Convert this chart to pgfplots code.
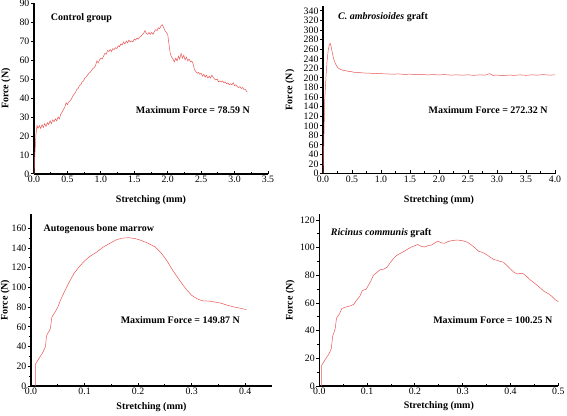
\documentclass[border=0pt]{standalone}
\usepackage{pgfplots}
\pgfplotsset{compat=1.18}
\usepackage{fontspec}
\setmainfont{Liberation Serif}
\definecolor{curve}{RGB}{235,85,85}
\pgfplotsset{
  panel/.style={
    scale only axis,
    axis lines*=left,
    axis line style={line width=1.1pt, black},
    every tick/.style={black, line width=1pt},
    major tick length=3.2pt,
    minor tick length=2.2pt,
    xtick align=inside,
    ytick align=outside,
    tick label style={font=\fontsize{9.8}{10}\selectfont},
    yticklabel style={inner sep=1.2pt},
    xticklabel style={inner sep=2pt},
    /pgf/number format/assume math mode=true,
    label style={font=\bfseries\fontsize{10}{11}\selectfont},
    clip=false,
  },
  xone/.style={xticklabel style={/pgf/number format/.cd, fixed, fixed zerofill, precision=1}},
}
\newcommand{\ann}{\bfseries\fontsize{10}{11}\selectfont}
\begin{document}
\begin{tikzpicture}[x=1pt,y=1pt]
\useasboundingbox (0,0) rectangle (567,415);
% ---------- Panel 1: Control group
\begin{axis}[panel, xone,
  at={(34pt,241pt)}, anchor=south west, width=234pt, height=171pt,
  xmin=0, xmax=3.5, ymin=0, ymax=90,
  xtick={0,0.5,1,1.5,2,2.5,3,3.5}, ytick={0,10,...,90},
  minor x tick num=1,
  xlabel={Stretching (mm)}, ylabel={Force (N)},
  x label style={at={(axis description cs:0.5,0)}, anchor=center, yshift=-26pt},
  y label style={at={(axis description cs:-0.12,0.5)}, anchor=center},
]
\addplot[curve, line width=0.5pt] coordinates {
(0,0) (0.01,8) (0.02,15) (0.03,21) (0.045,25.5) (0.06,24) (0.08,25.5) (0.10,24) (0.12,26) (0.14,24.5)
(0.16,26.5) (0.18,25) (0.20,27) (0.22,26) (0.24,28) (0.26,26.5) (0.28,28.5) (0.30,27.5) (0.32,29) (0.34,28)
(0.36,30) (0.38,29) (0.40,31.5) (0.42,32.5) (0.44,34) (0.46,35) (0.48,37.5) (0.50,36.5) (0.52,38) (0.54,38.5)
(0.56,39.5) (0.58,41) (0.60,42) (0.62,43) (0.64,44.5) (0.66,45) (0.68,46.5) (0.70,47) (0.72,48.5) (0.74,49)
(0.76,50.5) (0.78,51) (0.80,52) (0.82,53) (0.84,53.5) (0.86,54.5) (0.88,55.5) (0.90,56) (0.92,57) (0.94,59.5)
(0.96,58.5) (0.98,60) (1.00,61) (1.02,60.5) (1.04,62) (1.06,63.5) (1.08,63) (1.10,65) (1.12,64.5) (1.14,65.5)
(1.16,64.5) (1.18,66) (1.20,65.5) (1.22,66.5) (1.24,66) (1.26,67.5) (1.28,67) (1.30,68.5) (1.32,68) (1.34,69.5)
(1.36,68.5) (1.38,70) (1.40,69) (1.42,70.5) (1.44,69.5) (1.46,70) (1.48,69.5) (1.50,71) (1.52,70.5) (1.54,71.5)
(1.56,71) (1.58,72) (1.60,72.5) (1.62,73.5) (1.64,74) (1.66,75.5) (1.68,74) (1.70,73.5) (1.72,74.5) (1.74,73.5)
(1.76,74.5) (1.78,73.5) (1.80,75) (1.82,76) (1.84,75.5) (1.86,77) (1.88,76.5) (1.90,78) (1.92,78.6) (1.94,77)
(1.96,75.5) (1.98,74.5) (2.00,73.5) (2.02,68) (2.04,63) (2.06,61.5) (2.08,60.5) (2.10,59) (2.12,61) (2.14,59.5)
(2.16,62) (2.18,60.5) (2.20,63.5) (2.22,61) (2.24,62.5) (2.26,60) (2.28,61.5) (2.30,59.5) (2.32,60.5) (2.34,59)
(2.36,59.5) (2.38,58) (2.40,55) (2.42,54) (2.44,53) (2.46,53.5) (2.48,52.5) (2.50,53) (2.52,51.5) (2.54,52.5)
(2.56,51) (2.58,52) (2.60,50.5) (2.62,51.5) (2.64,50.5) (2.66,52) (2.68,51) (2.70,50) (2.72,49.5) (2.74,50)
(2.76,48.5) (2.78,49) (2.80,48.5) (2.82,49) (2.84,48) (2.86,48.5) (2.88,47.5) (2.90,48) (2.92,47) (2.94,47.5)
(2.96,47) (2.98,48) (3.00,46.5) (3.02,47) (3.04,46) (3.06,45.5) (3.08,46) (3.10,45) (3.12,45.5) (3.14,44.5)
(3.16,44.5) (3.18,43.5) (3.19,43)
};
\node[anchor=west, font=\ann] at (axis cs:0.2,82) {Control group};
\node[anchor=west, font=\ann] at (axis cs:1.47,33.5) {Maximum Force = 78.59 N};
\end{axis}
% ---------- Panel 2: C. ambrosioides
\begin{axis}[panel, xone,
  at={(323pt,241.3pt)}, anchor=south west, width=232pt, height=167.5pt,
  xmin=0, xmax=4, ymin=0, ymax=350,
  xtick={0,0.5,1,1.5,2,2.5,3,3.5,4}, ytick={0,20,...,340},
  minor x tick num=1,
  xlabel={Stretching (mm)}, ylabel={Force (N)},
  x label style={at={(axis description cs:0.5,0)}, anchor=center, yshift=-26.5pt},
  y label style={at={(axis description cs:-0.142,0.5)}, anchor=center},
]
\addplot[curve, line width=0.5pt] coordinates {
(0,0) (0.01,40) (0.02,100) (0.03,155) (0.05,200) (0.07,235) (0.09,258) (0.11,270) (0.125,272.3) (0.14,266)
(0.16,253) (0.18,242) (0.20,234) (0.23,226) (0.26,221) (0.30,218) (0.35,216) (0.40,215) (0.45,213.5) (0.50,213)
(0.55,211.5) (0.60,211.5) (0.70,210.5) (0.80,210) (0.90,209.5) (1.0,209) (1.1,208.5) (1.2,208) (1.3,208.5) (1.4,207.5)
(1.5,208) (1.6,207) (1.7,207.5) (1.8,206.5) (1.9,207) (2.0,206.5) (2.1,207) (2.2,206) (2.3,206.5) (2.4,206)
(2.5,206.5) (2.6,205.5) (2.7,206.5) (2.8,206) (2.87,209) (2.93,205.5) (3.0,206) (3.1,205) (3.2,206) (3.3,205.5)
(3.4,206.5) (3.5,205.5) (3.6,206.5) (3.7,206) (3.8,207) (3.9,206) (4.0,206.5)
};
\node[anchor=west, font=\ann] at (axis cs:0.2,327) {\textit{C. ambrosioides} graft};
\node[anchor=west, font=\ann] at (axis cs:1.76,133) {Maximum Force = 272.32 N};
\end{axis}
% ---------- Panel 3: Autogenous bone marrow
\begin{axis}[panel, xone,
  at={(31pt,29pt)}, anchor=south west, width=241pt, height=171.5pt,
  xmin=0, xmax=0.45, ymin=0, ymax=174,
  xtick={0,0.1,0.2,0.3,0.4}, ytick={0,20,...,160},
  minor x tick num=1, minor y tick num=1,
  xlabel={Stretching (mm)}, ylabel={Force (N)},
  x label style={at={(axis description cs:0.5,0)}, anchor=center, yshift=-21.5pt},
  y label style={at={(axis description cs:-0.107,0.5)}, anchor=center},
]
\addplot[curve, line width=0.5pt] coordinates {
(0.008,0) (0.008,22) (0.015,28) (0.022,34) (0.027,40) (0.029,51) (0.036,58) (0.039,70) (0.045,75) (0.05,80)
(0.055,87) (0.061,94) (0.07,104) (0.08,114) (0.09,121) (0.1,127) (0.11,131.5) (0.123,136) (0.135,141) (0.148,145)
(0.16,148.5) (0.17,150) (0.182,150.5) (0.195,149.5) (0.204,148) (0.218,145) (0.232,141) (0.243,135) (0.254,127) (0.265,117)
(0.279,106) (0.29,98) (0.3,92) (0.31,88.5) (0.32,86.5) (0.335,86) (0.345,85) (0.355,84) (0.366,82) (0.38,80)
(0.39,79) (0.402,77.5)
};
\node[anchor=west, font=\ann] at (axis cs:0.017,159) {Autogenous bone marrow};
\node[anchor=west, font=\ann] at (axis cs:0.161,67) {Maximum Force = 149.87 N};
\end{axis}
% ---------- Panel 4: Ricinus communis
\begin{axis}[panel, xone,
  at={(319.3pt,29pt)}, anchor=south west, width=239pt, height=171.5pt,
  xmin=0, xmax=0.5, ymin=0, ymax=124,
  xtick={0,0.1,0.2,0.3,0.4,0.5}, ytick={0,20,...,120},
  minor x tick num=1, minor y tick num=1,
  xlabel={Stretching (mm)}, ylabel={Force (N)},
  x label style={at={(axis description cs:0.5,0)}, anchor=center, yshift=-20.5pt},
  y label style={at={(axis description cs:-0.122,0.5)}, anchor=center},
]
\addplot[curve, line width=0.5pt] coordinates {
(0.005,0) (0.005,15) (0.012,19) (0.02,23) (0.025,27) (0.028,36) (0.033,41) (0.036,49) (0.042,52) (0.047,56)
(0.055,57) (0.065,58) (0.072,59) (0.078,62) (0.085,65) (0.09,69) (0.098,70) (0.103,73) (0.108,76) (0.113,80)
(0.12,82) (0.127,84) (0.135,84.5) (0.142,86) (0.148,89) (0.155,92) (0.162,94.5) (0.17,96) (0.178,97.5) (0.185,99)
(0.193,100.5) (0.2,101.5) (0.206,102.3) (0.213,101) (0.22,100.5) (0.228,101.5) (0.235,102) (0.242,103.5) (0.248,104.8) (0.255,103.5)
(0.262,103.2) (0.27,104.5) (0.28,105.3) (0.29,105.5) (0.3,105) (0.31,104) (0.318,102) (0.325,100) (0.333,97.5) (0.342,96.5)
(0.35,95) (0.358,93) (0.365,91.5) (0.375,90.5) (0.385,89.5) (0.393,87) (0.4,84.5) (0.408,82) (0.415,81) (0.425,81.5)
(0.433,79.5) (0.44,77) (0.448,75) (0.455,73) (0.462,71) (0.47,68.5) (0.478,67) (0.486,65) (0.493,62.5) (0.5,61)
};
\node[anchor=west, font=\ann] at (axis cs:0.017,110.5) {\textit{Ricinus communis} graft};
\node[anchor=west, font=\ann] at (axis cs:0.231,47.5) {Maximum Force = 100.25 N};
\end{axis}
\end{tikzpicture}
\end{document}
